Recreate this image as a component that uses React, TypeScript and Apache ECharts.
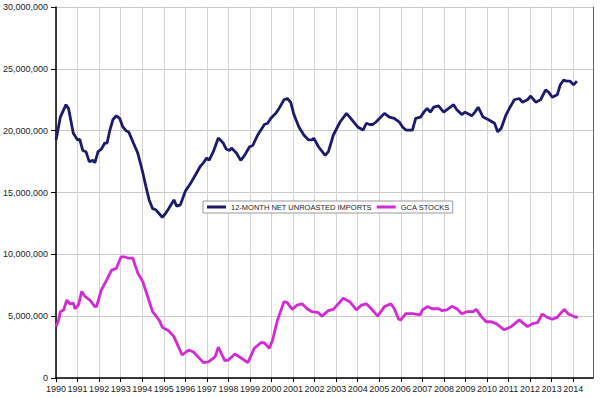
import React, { useEffect, useRef } from "react";
import * as echarts from "echarts";

// [year, value in millions]
const importsData: [number, number][] = [
  [1990.0, 19.25], [1990.2, 21.1], [1990.46, 22.1], [1990.58, 21.8], [1990.8, 19.8],
  [1991.0, 19.25], [1991.1, 19.3], [1991.24, 18.4], [1991.39, 18.3], [1991.54, 17.5],
  [1991.72, 17.6], [1991.8, 17.4], [1991.95, 18.3], [1992.1, 18.5], [1992.26, 19.0],
  [1992.37, 19.0], [1992.5, 20.05], [1992.64, 20.9], [1992.8, 21.2], [1992.95, 21.0],
  [1993.1, 20.3], [1993.25, 20.0], [1993.37, 19.9], [1993.59, 19.0], [1993.79, 18.2],
  [1994.0, 16.8], [1994.17, 15.5], [1994.32, 14.4], [1994.48, 13.7], [1994.63, 13.6],
  [1994.78, 13.3], [1994.93, 13.0], [1995.08, 13.3], [1995.23, 13.7], [1995.47, 14.4],
  [1995.6, 13.9], [1995.77, 14.0], [1996.0, 15.1], [1996.23, 15.7], [1996.46, 16.4],
  [1996.69, 17.1], [1996.84, 17.4], [1997.0, 17.8], [1997.1, 17.6], [1997.3, 18.3],
  [1997.53, 19.4], [1997.76, 19.0], [1997.9, 18.5], [1998.06, 18.4], [1998.14, 18.6],
  [1998.37, 18.2], [1998.57, 17.6], [1998.75, 18.0], [1998.98, 18.7], [1999.13, 18.8],
  [1999.36, 19.65], [1999.67, 20.5], [1999.82, 20.6], [1999.97, 21.0], [2000.2, 21.4],
  [2000.35, 21.8], [2000.58, 22.5], [2000.73, 22.6], [2000.89, 22.3], [2001.04, 21.3],
  [2001.27, 20.3], [2001.5, 19.65], [2001.72, 19.25], [2001.88, 19.25], [2001.96, 19.4],
  [2002.18, 18.7], [2002.49, 18.0], [2002.64, 18.3], [2002.87, 19.65], [2003.18, 20.7],
  [2003.48, 21.4], [2003.63, 21.1], [2004.0, 20.3], [2004.25, 20.05], [2004.4, 20.6],
  [2004.55, 20.5], [2004.7, 20.5], [2004.85, 20.7], [2005.24, 21.4], [2005.47, 21.1],
  [2005.7, 21.0], [2005.93, 20.7], [2006.08, 20.3], [2006.24, 20.05], [2006.54, 20.05],
  [2006.69, 21.0], [2006.92, 21.1], [2007.07, 21.5], [2007.22, 21.8], [2007.37, 21.5],
  [2007.53, 21.9], [2007.75, 22.0], [2007.99, 21.5], [2008.22, 21.8], [2008.45, 22.1],
  [2008.6, 21.7], [2008.83, 21.3], [2008.98, 21.5], [2009.29, 21.2], [2009.44, 21.5],
  [2009.59, 21.9], [2009.82, 21.1], [2010.05, 20.9], [2010.35, 20.6], [2010.5, 19.9],
  [2010.66, 20.2], [2010.89, 21.3], [2011.04, 21.8], [2011.27, 22.5], [2011.5, 22.6],
  [2011.65, 22.3], [2011.88, 22.5], [2012.03, 22.8], [2012.26, 22.3], [2012.49, 22.5],
  [2012.72, 23.3], [2012.87, 23.1], [2013.03, 22.7], [2013.26, 22.9], [2013.4, 23.7],
  [2013.56, 24.1], [2013.71, 24.0], [2013.86, 24.0], [2014.02, 23.7], [2014.17, 24.0],
];

const stocksData: [number, number][] = [
  [1990.0, 4.15], [1990.12, 4.7], [1990.2, 5.36], [1990.35, 5.5], [1990.5, 6.3],
  [1990.65, 6.0], [1990.8, 6.05], [1990.88, 5.6], [1991.04, 5.9], [1991.19, 7.0],
  [1991.34, 6.6], [1991.57, 6.3], [1991.8, 5.77], [1991.88, 5.8], [1992.1, 7.1],
  [1992.34, 7.9], [1992.57, 8.7], [1992.8, 8.87], [1993.02, 9.8], [1993.17, 9.8],
  [1993.33, 9.7], [1993.56, 9.7], [1993.79, 8.5], [1994.02, 7.8], [1994.25, 6.6],
  [1994.48, 5.36], [1994.78, 4.7], [1994.93, 4.1], [1995.24, 3.8], [1995.47, 3.35],
  [1995.85, 1.86], [1996.15, 2.26], [1996.38, 2.1], [1996.84, 1.24], [1997.07, 1.3],
  [1997.38, 1.7], [1997.53, 2.5], [1997.83, 1.4], [1998.0, 1.45], [1998.3, 1.94],
  [1998.52, 1.7], [1998.9, 1.24], [1999.2, 2.4], [1999.5, 2.85], [1999.66, 2.85],
  [1999.9, 2.4], [2000.05, 3.07], [2000.28, 4.7], [2000.58, 6.17], [2000.73, 6.1],
  [2000.96, 5.55], [2001.19, 5.9], [2001.42, 6.0], [2001.65, 5.6], [2001.88, 5.36],
  [2002.18, 5.28], [2002.34, 5.0], [2002.64, 5.45], [2002.87, 5.55], [2003.33, 6.45],
  [2003.63, 6.17], [2003.94, 5.5], [2004.17, 5.9], [2004.4, 6.0], [2004.63, 5.6],
  [2004.93, 5.0], [2005.24, 5.77], [2005.54, 6.0], [2005.7, 5.6], [2005.9, 4.75],
  [2006.0, 4.7], [2006.23, 5.2], [2006.55, 5.2], [2006.9, 5.1], [2007.0, 5.5],
  [2007.23, 5.77], [2007.46, 5.6], [2007.76, 5.6], [2007.9, 5.45], [2008.14, 5.5],
  [2008.37, 5.8], [2008.6, 5.6], [2008.83, 5.2], [2009.06, 5.36], [2009.36, 5.36],
  [2009.5, 5.55], [2009.74, 4.96], [2009.97, 4.55], [2010.2, 4.55], [2010.43, 4.4],
  [2010.8, 3.9], [2011.12, 4.15], [2011.5, 4.7], [2011.88, 4.15], [2012.11, 4.4],
  [2012.34, 4.47], [2012.57, 5.17], [2012.8, 4.9], [2013.03, 4.75], [2013.26, 4.9],
  [2013.4, 5.2], [2013.59, 5.55], [2013.78, 5.17], [2014.01, 5.0], [2014.14, 4.9],
  [2014.2, 5.0],
];

const seriesNames = ["12-MONTH NET UNROASTED IMPORTS", "GCA STOCKS"];
const xMin = 1990;
const xMax = 2014.92;
const yMax = 30000000;
const yStep = 5000000;

const toUnits = (d: [number, number][]) => d.map(([x, v]) => [x, v * 1000000]);

export default function App() {
  const ref = useRef<HTMLDivElement>(null);
  useEffect(() => {
    if (!ref.current) return;
    const chart = echarts.init(ref.current, null, { renderer: "svg" });
    const font = "'Liberation Sans', Arial, sans-serif";
    chart.setOption({
      animation: false,
      backgroundColor: "#fff",
      grid: { left: 49, top: 7, right: 7, bottom: 20 },
      legend: {
        data: seriesNames,
        left: 203,
        top: 201,
        orient: "horizontal",
        icon: "rect",
        itemWidth: 19,
        itemHeight: 3,
        itemGap: 5,
        padding: [2, 3, 2, 4],
        borderColor: "#999",
        borderWidth: 1,
        backgroundColor: "#fff",
        textStyle: { fontSize: 7.5, fontFamily: font, color: "#222" },
      },
      xAxis: {
        type: "value",
        min: xMin,
        max: xMax,
        interval: 1,
        axisLine: { show: true, lineStyle: { color: "#000", width: 1.5 } },
        axisTick: { show: true, length: 4, lineStyle: { color: "#000" } },
        axisLabel: {
          fontSize: 9,
          fontFamily: font,
          color: "#222",
          margin: 6,
          showMaxLabel: false,
          formatter: (v: number) => (Number.isInteger(v) ? String(v) : ""),
        },
        splitLine: { show: true, lineStyle: { color: "#d4d4d4", width: 1 } },
      },
      yAxis: [
        {
          type: "value",
          min: 0,
          max: yMax,
          interval: yStep,
          axisLine: { show: true, lineStyle: { color: "#000", width: 1.5 } },
          axisTick: { show: true, length: 5, lineStyle: { color: "#000" } },
          axisLabel: {
            fontSize: 9,
            fontFamily: font,
            color: "#222",
            margin: 8,
            formatter: (v: number) => v.toLocaleString("en-US"),
          },
          splitLine: { show: true, lineStyle: { color: "#c8c8c8", width: 1 } },
        },
        {
          type: "value",
          position: "right",
          min: 0,
          max: yMax,
          interval: yStep,
          axisLine: { show: true, lineStyle: { color: "#666", width: 1 } },
          axisTick: { show: false },
          axisLabel: { show: false },
          splitLine: { show: false },
        },
      ],
      series: [
        {
          name: seriesNames[0],
          type: "line",
          data: toUnits(importsData),
          showSymbol: false,
          symbol: "none",
          lineStyle: { color: "#1b1a6b", width: 2.8 },
          itemStyle: { color: "#1b1a6b" },
        },
        {
          name: seriesNames[1],
          type: "line",
          data: toUnits(stocksData),
          showSymbol: false,
          symbol: "none",
          lineStyle: { color: "#d42ad4", width: 2.8 },
          itemStyle: { color: "#d42ad4" },
        },
      ],
    });
    return () => chart.dispose();
  }, []);
  return (
    <div
      ref={ref}
      style={{ position: "fixed", left: 0, top: 0, width: 600, height: 398, background: "#fff" }}
    />
  );
}
